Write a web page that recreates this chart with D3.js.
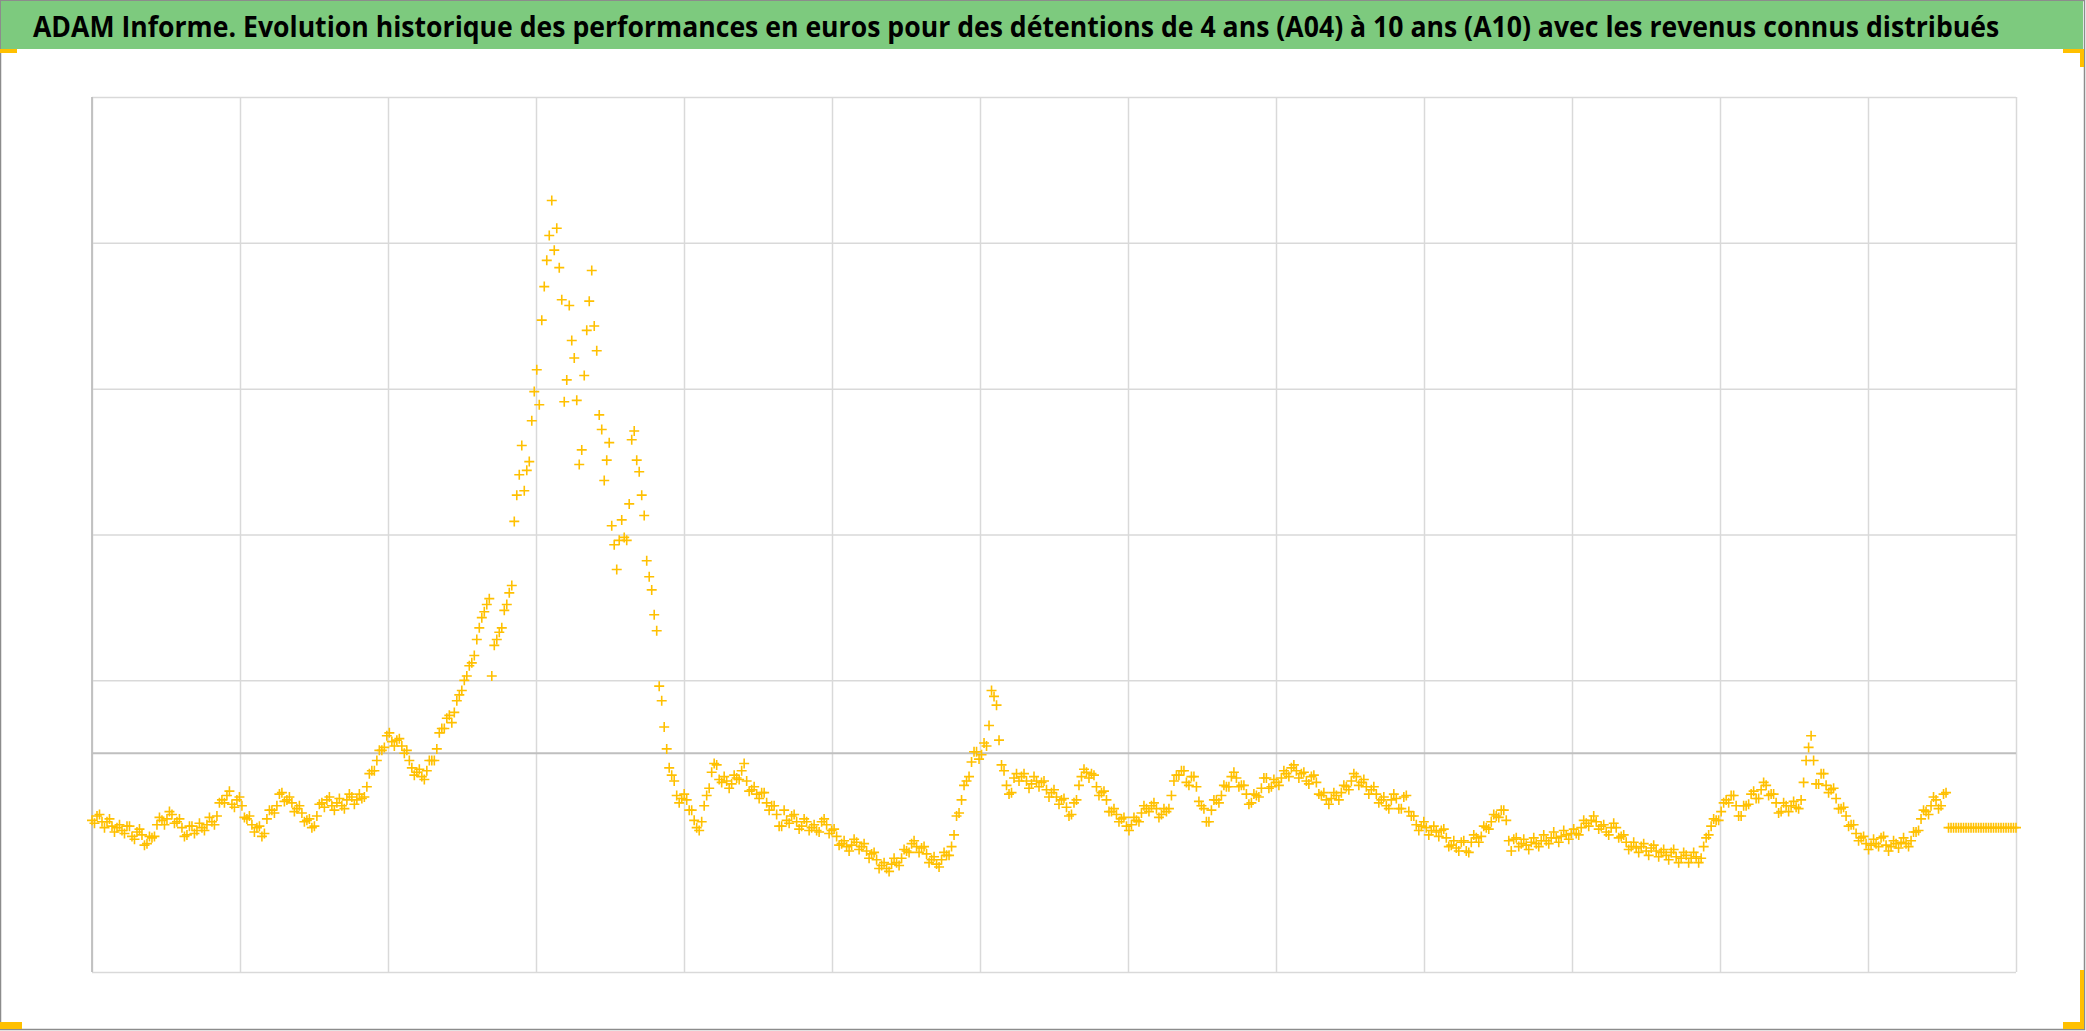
<!DOCTYPE html>
<html>
<head>
<meta charset="utf-8">
<script src="https://cdn.jsdelivr.net/npm/d3@7"></script>
<style>
  html, body { margin: 0; padding: 0; background: #ffffff; }
  svg { display: block; }
</style>
</head>
<body>
<svg id="chart" width="2086" height="1031"></svg>
<script>
// ---------- DATA ----------
const titleText = "ADAM Informe. Evolution historique des performances en euros pour des détentions de 4 ans (A04) à 10 ans (A10) avec les revenus connus distribués";

// vertical gridline positions (periods on the horizontal axis)
const xTicks = [0, 1, 2, 3, 4, 5, 6, 7, 8, 9, 10, 11, 12, 13];
// horizontal gridline values (thousands of euros)
const yTicks = [-15, 5, 15, 25, 35, 45];
const yZero = 0;

// performance values (thousands of euros), evenly spaced through time
const perf = [
  -4.6,-4.8, -4.3,-4.2, -4.7,-5.1, -4.7,-4.5, -5.0,-5.4, -5.1,-4.9, -5.3,-5.5, -5.0,-5.0, -5.7,-5.9, -5.4,-5.2,
  -5.6,-6.3, -6.2,-5.7, -5.8,-5.7, -4.9,-4.4, -4.6,-4.9, -4.5,-4.0, -4.2,-4.8, -4.7,-4.5, -5.1,-5.7, -5.6,-5.0,
  -5.0,-5.5, -5.3,-4.8, -5.1,-5.3, -4.9,-4.4, -4.7,-4.9, -4.3,-3.4, -3.2,-3.4, -2.9,-2.6, -3.5,-3.7, -3.2,-3.0,
  -3.6,-4.4, -4.5,-4.3, -4.9,-5.4, -5.1,-5.0, -5.7,-5.5, -4.5,-3.9, -3.9,-4.1, -3.6,-2.8, -2.7,-3.3, -3.2,-3.0,
  -3.4,-4.0, -3.8,-3.6, -4.1,-4.7, -4.6,-4.5, -5.1,-5.0, -4.3,-3.5, -3.4,-3.7, -3.2,-3.0, -3.6,-3.9, -3.4,-3.1,
  -3.6,-3.8, -3.2,-2.8, -3.0,-3.5, -3.2,-2.8, -3.1,-3.0, -2.3,-1.4, -1.2,-1.2, -0.5,0.2, 0.2,0.4, 1.2,1.4,
  0.8,0.5, 0.9,1.0, 0.5,0.0, 0.2,-0.5, -1.0,-1.5, -1.3,-1.1, -1.6,-1.8, -1.2,-0.5, -0.5,-0.5, 0.3,1.4,
  1.7,1.7, 2.4,2.6, 2.1,2.8, 3.6,4.0, 4.3,5.0, 5.3,6.0, 6.2,6.7, 7.8,8.6, 9.3,9.7, 10.2,10.6,
  5.3,7.4, 7.8,8.3, 8.6,9.8, 10.2,11.0, 11.5,15.9, 17.7,19.1, 21.1,18.0, 19.4,20.0, 22.8,24.8, 26.3,23.9,
  29.7,32.0, 33.8,35.5, 37.9,34.5, 36.0,33.3, 31.1,24.1, 25.6,30.7, 28.3,27.1, 24.2,19.8, 20.8,25.9, 29.0,31.0,
  33.1,29.3, 27.6,23.2, 22.2,18.7, 20.1,21.3, 15.6,14.3, 12.6,14.6, 16.0,14.8, 14.6,17.1, 21.5,22.1, 20.1,19.3,
  17.7,16.3, 13.2,12.1, 11.2,9.5, 8.4,4.6, 3.6,1.8, 0.3,-1.0, -1.5,-1.9, -2.9,-3.4, -3.1,-2.8, -3.2,-3.9,
  -3.9,-4.6, -5.1,-5.3, -4.7,-3.6, -2.9,-2.4, -1.3,-0.7, -0.8,-1.8, -2.0,-1.6, -1.9,-2.4, -2.1,-1.5, -1.7,-1.8,
  -1.2,-0.7, -1.9,-2.6, -2.5,-2.3, -2.8,-3.1, -2.7,-2.7, -3.4,-3.9, -3.6,-3.6, -4.2,-5.0, -5.0,-3.9, -4.6,-4.8,
  -4.3,-4.2, -4.7,-5.2, -5.0,-4.5, -4.7,-5.3, -5.1,-4.9, -5.3,-5.4, -4.7,-4.5, -4.9,-5.5, -5.3,-5.2, -5.7,-6.3,
  -6.2,-6.0, -6.4,-6.7, -6.3,-5.9, -6.1,-6.6, -6.4,-6.2, -6.7,-7.2, -6.9,-6.8, -7.3,-7.9, -7.7,-7.5, -7.9,-8.1,
  -7.6,-7.2, -7.5,-7.7, -7.2,-6.6, -6.7,-6.8, -6.2,-6.0, -6.4,-6.8, -6.5,-6.4, -6.9,-7.5, -7.3,-7.1, -7.6,-7.8,
  -7.3,-6.8, -7.0,-7.0, -6.4,-5.6, -4.3,-4.1, -3.2,-2.2, -1.9,-1.6, -0.6,0.1, 0.1,-0.4, -0.1,0.7, 0.5,1.9,
  4.3,3.9, 3.3,0.9, -0.8,-1.2, -2.2,-2.8, -2.7,-1.7, -1.4,-1.9, -1.6,-1.4, -1.9,-2.4, -2.1,-1.6, -1.9,-2.3,
  -2.0,-1.9, -2.5,-3.0, -2.7,-2.5, -3.0,-3.5, -3.2,-3.1, -3.7,-4.3, -4.2,-3.4, -3.2,-2.2, -1.6,-1.1, -1.3,-1.7,
  -1.4,-1.5, -2.3,-2.9, -2.7,-2.6, -3.2,-4.0, -4.0,-3.8, -4.2,-4.7, -4.5,-4.4, -5.0,-5.3, -4.9,-4.4, -4.6,-4.7,
  -4.1,-3.6, -3.8,-4.0, -3.6,-3.4, -3.8,-4.4, -4.2,-3.8, -4.0,-3.8, -2.9,-1.9, -1.5,-1.5, -1.2,-1.2, -2.0,-2.2,
  -1.6,-1.6, -2.3,-3.3, -3.6,-3.8, -4.7,-4.7, -3.9,-3.2, -3.2,-3.4, -2.9,-2.2, -2.3,-2.3, -1.6,-1.3, -1.7,-2.3,
  -2.2,-2.2, -2.8,-3.5, -3.4,-2.8, -2.9,-3.0, -2.4,-1.7, -1.7,-2.4, -2.3,-1.8, -2.0,-2.2, -1.7,-1.2, -1.4,-1.6,
  -1.0,-0.8, -1.2,-1.7, -1.4,-1.3, -1.9,-2.1, -1.6,-1.5, -2.0,-2.8, -2.9,-2.7, -3.2,-3.5, -3.1,-2.7, -2.9,-3.2,
  -2.7,-2.2, -2.3,-2.5, -1.9,-1.4, -1.6,-2.2, -2.0,-1.8, -2.3,-2.8, -2.5,-2.3, -2.8,-3.4, -3.2,-3.0, -3.6,-3.8,
  -3.2,-2.8, -3.1,-3.8, -3.8,-3.0, -2.9,-4.0, -4.3,-4.3, -4.9,-5.3, -5.0,-4.7, -5.1,-5.6, -5.3,-5.0, -5.4,-5.7,
  -5.3,-5.2, -5.8,-6.4, -6.3,-6.0, -6.5,-6.7, -6.1,-6.0, -6.7,-6.8, -6.1,-5.6, -5.8,-6.1, -5.7,-5.0, -5.1,-5.2,
  -4.7,-4.2, -4.3,-4.4, -3.9,-3.9, -4.6,-6.0, -6.7,-5.9, -5.8,-6.4, -6.2,-5.9, -6.3,-6.6, -6.1,-5.8, -6.2,-6.4,
  -6.0,-5.6, -6.0,-6.2, -5.8,-5.4, -5.8,-6.1, -5.7,-5.3, -5.6,-5.9, -5.5,-5.2, -5.5,-5.6, -5.1,-4.6, -4.8,-5.0,
  -4.6,-4.3, -4.7,-5.2, -5.0,-4.9, -5.4,-5.6, -5.1,-4.8, -5.1,-5.8, -5.7,-5.6, -6.1,-6.6, -6.4,-6.1, -6.5,-6.8,
  -6.4,-6.2, -6.7,-7.0, -6.5,-6.3, -6.7,-7.1, -6.8,-6.6, -7.0,-7.3, -6.8,-6.6, -7.1,-7.5, -7.2,-6.8, -7.0,-7.5,
  -7.2,-6.8, -7.1,-7.5, -7.2,-6.4, -5.8,-5.6, -5.0,-4.5, -4.6,-4.6, -4.0,-3.4, -3.2,-3.4, -2.9,-2.9, -3.6,-4.3,
  -4.3,-3.6, -3.6,-3.5, -2.8,-2.6, -3.1,-3.1, -2.5,-2.0, -2.2,-2.9, -2.8,-2.8, -3.4,-4.1, -4.0,-3.4, -3.6,-4.0,
  -3.6,-3.3, -3.7,-3.8, -3.2,-2.0, -0.5,0.4, 1.2,-0.5, -2.1,-2.1, -1.4,-1.4, -2.2,-2.7, -2.5,-2.4, -3.1,-3.8,
  -3.8,-3.7, -4.3,-5.0, -4.9,-4.9, -5.5,-6.0, -5.8,-5.7, -6.2,-6.6, -6.3,-5.9, -6.2,-6.4, -5.8,-5.7, -6.3,-6.7,
  -6.4,-6.0, -6.2,-6.5, -6.1,-5.8, -6.2,-6.4, -6.0,-5.4, -5.4,-5.3, -4.5,-3.9, -4.0,-4.2, -3.6,-3.0, -3.2,-3.8,
  -3.6,-2.8, -2.7,-5.1,
  -5.1,-5.1, -5.1,-5.1, -5.1,-5.1, -5.1,-5.1, -5.1,-5.1, -5.1,-5.1, -5.1,-5.1, -5.1,-5.1, -5.1,-5.1, -5.1,-5.1,
  -5.1,-5.1, -5.1,-5.1, -5.1,-5.1, -5.1
];

// ---------- LAYOUT ----------
const W = 2086, H = 1031;
const plot = { left: 92, right: 2016, top: 97, bottom: 972 };
const gold = "#ffc000";

const svg = d3.select("#chart");

// chart outer frame
svg.append("rect").attr("x", 0.5).attr("y", 0.5).attr("width", W - 2).attr("height", H - 2)
  .attr("fill", "#ffffff").attr("stroke", "#8c8c8c").attr("stroke-width", 1.5);

// title bar
svg.append("rect").attr("x", 1).attr("y", 1).attr("width", W - 4).attr("height", 48)
  .attr("fill", "#7dca7e");
const title = svg.append("text")
  .attr("x", 0).attr("y", 0)
  .style("font-family", "'Liberation Sans Narrow', 'Arial Narrow', 'Open Sans', sans-serif")
  .style("font-weight", "bold").style("font-size", "29px").attr("fill", "#000")
  .text(titleText);
const natural = title.node().getComputedTextLength();
const kx = 1967 / natural;
title.attr("transform", `translate(33,37) scale(${kx},1)`);

// scales
const x = d3.scaleLinear().domain([0, 13]).range([plot.left, plot.right]);
const y = d3.scaleLinear().domain([-15, 45]).range([plot.bottom, plot.top]);
const tOf = i => i * 13 / (perf.length - 1);

// gridlines via axes
const gx = svg.append("g").attr("transform", `translate(0,${plot.bottom})`)
  .call(d3.axisBottom(x).tickValues(xTicks).tickSize(-(plot.bottom - plot.top)).tickFormat(""));
gx.select(".domain").remove();
gx.selectAll(".tick line").attr("stroke", "#d9d9d9").attr("stroke-width", 1.5);

const gy = svg.append("g").attr("transform", `translate(${plot.left},0)`)
  .call(d3.axisLeft(y).tickValues(yTicks).tickSize(-(plot.right - plot.left)).tickFormat(""));
gy.select(".domain").remove();
gy.selectAll(".tick line").attr("stroke", "#d9d9d9").attr("stroke-width", 1.5);

// axis lines
svg.append("line").attr("x1", plot.left).attr("x2", plot.left).attr("y1", plot.top).attr("y2", plot.bottom)
  .attr("stroke", "#bfbfbf").attr("stroke-width", 1.8);
svg.append("line").attr("x1", plot.left).attr("x2", plot.right).attr("y1", y(yZero)).attr("y2", y(yZero))
  .attr("stroke", "#bfbfbf").attr("stroke-width", 1.8);

// markers (+)
svg.append("g").selectAll("path").data(perf).join("path")
  .attr("transform", (d, i) => `translate(${x(tOf(i))},${y(d)})`)
  .attr("d", "M-5,0H5M0,-5V5")
  .attr("stroke", gold).attr("stroke-width", 1.6).attr("fill", "none");

// selection handles (corners)
const hs = [
  [0, 49, 17, 4], [W - 23, 49, 21, 4], [W - 6, 49, 4, 18],
  [0, H - 9, 22, 7], [W - 23, H - 9, 21, 7], [W - 6, H - 61, 4, 59]
];
svg.append("g").selectAll("rect").data(hs).join("rect")
  .attr("x", d => d[0]).attr("y", d => d[1]).attr("width", d => d[2]).attr("height", d => d[3])
  .attr("fill", gold);
</script>
</body>
</html>
